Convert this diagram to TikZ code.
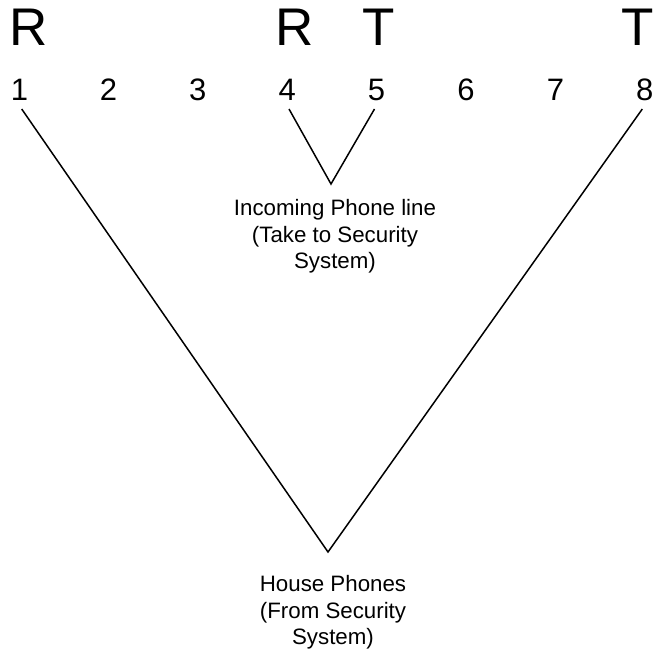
\documentclass[tikz,border=0pt]{standalone}
\usepackage{fontspec}
\setmainfont{Liberation Sans}
\begin{document}
\begin{tikzpicture}[x=1pt,y=-1pt,
  letter/.style={inner sep=0pt,anchor=base,font=\fontsize{53}{60}\selectfont},
  digit/.style={inner sep=0pt,anchor=base,font=\fontsize{31}{36}\selectfont},
  caption/.style={inner sep=0pt,anchor=north,align=center,font=\fontsize{22.3}{26.8}\selectfont},
  wire/.style={line width=1.5pt,line join=miter}]
\useasboundingbox (0,0) rectangle (654,654);
\node[letter] (rA) at (29,45) {R};
\node[letter] (rB) at (295,45) {R};
\node[letter] (tA) at (379,45) {T};
\node[letter] (tB) at (637.5,45) {T};
\node[digit] (d1) at (19.5,100) {1};
\node[digit] (d2) at (108.4,100) {2};
\node[digit] (d3) at (197.8,100) {3};
\node[digit] (d4) at (287.2,100) {4};
\node[digit] (d5) at (376.6,100) {5};
\node[digit] (d6) at (466,100) {6};
\node[digit] (d7) at (555.4,100) {7};
\node[digit] (d8) at (644.8,100) {8};
\coordinate (e1) at (21.7,109);
\coordinate (e8) at (642.3,109);
\coordinate (e4) at (289,109);
\coordinate (e5) at (374.5,109);
\coordinate (vin) at (331,184);
\coordinate (vhouse) at (328,552);
\draw[wire] (e4) -- (vin) -- (e5);
\draw[wire] (e1) -- (vhouse) -- (e8);
\node[caption] (inc) at (335,199) {Incoming Phone line\\(Take to Security\\System)};
\node[caption] (house) at (333,575) {House Phones\\(From Security\\System)};
\end{tikzpicture}
\end{document}
